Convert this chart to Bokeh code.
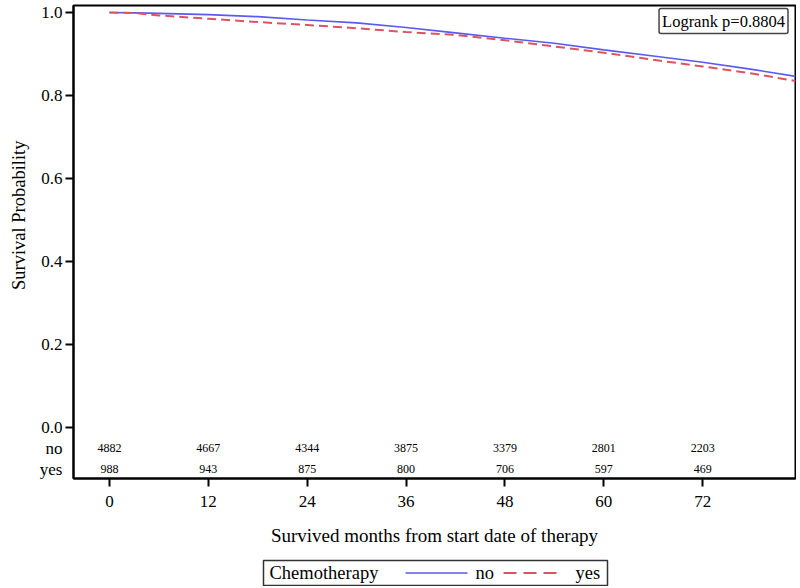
from bokeh.plotting import figure
from bokeh.layouts import column
from bokeh.models import Range1d, FixedTicker, PrintfTickFormatter, Label, ColumnDataSource, Title
from bokeh.core.properties import value
from bokeh.embed import file_html
from bokeh.resources import INLINE

FONT = "Liberation Serif"
BLUE = "#5a5af0"
RED = "#dc5462"

# Kaplan-Meier estimates (months, survival probability)
months = [0, 3, 6, 12, 18, 24, 30, 36, 42, 48, 54, 60, 66, 72, 78, 83.3]
surv_no = [1.000, 0.999, 0.998, 0.995, 0.990, 0.982, 0.975, 0.964, 0.951, 0.938,
           0.926, 0.910, 0.895, 0.880, 0.863, 0.846]
surv_yes = [1.000, 0.999, 0.993, 0.985, 0.977, 0.970, 0.962, 0.953, 0.946, 0.933,
            0.918, 0.903, 0.886, 0.870, 0.853, 0.835]

# numbers at risk
risk_times = [0, 12, 24, 36, 48, 60, 72]
risk_no = [4882, 4667, 4344, 3875, 3379, 2801, 2203]
risk_yes = [988, 943, 875, 800, 706, 597, 469]
risk_groups = ["no", "yes"]

x_ticks = [0, 12, 24, 36, 48, 60, 72]
y_ticks = [0.0, 0.2, 0.4, 0.6, 0.8, 1.0]
x_title = "Survived months from start date of therapy"
y_title = "Survival Probability"
logrank_text = "Logrank p=0.8804"
legend_title = "Chemotherapy"

# row positions of the at-risk table (below y = 0, inside the frame)
ROW_Y = [-0.05, -0.1]

p = figure(frame_width=722, frame_height=473,
           x_range=Range1d(-4.36, 83.27), y_range=Range1d(-0.12289, 1.01687),
           output_backend="svg", toolbar_location=None,
           min_border_left=73, min_border_right=1, min_border_top=5, min_border_bottom=78,
           x_axis_label=x_title)
p.grid.visible = False
p.outline_line_color = "black"
p.outline_line_width = 2
p.background_fill_color = "white"
p.border_fill_color = "white"

for ax in (p.xaxis[0], p.yaxis[0]):
    ax.axis_line_color = "black"
    ax.axis_line_width = 2
    ax.major_tick_line_color = "black"
    ax.major_tick_line_width = 2
    ax.major_tick_in = 0
    ax.major_tick_out = 8
    ax.minor_tick_line_color = None
    ax.major_label_text_font = FONT
    ax.major_label_text_font_size = "17px"
    ax.major_label_text_color = "black"
    ax.axis_label_text_font = FONT
    ax.axis_label_text_font_size = "19px"
    ax.axis_label_text_font_style = "normal"
    ax.axis_label_text_color = "black"

p.xaxis.ticker = FixedTicker(ticks=x_ticks)
p.xaxis.major_label_standoff = 9
p.xaxis.axis_label_standoff = 15

# y axis: numeric ticks carry marks (as minor ticks), group names of the
# at-risk table are labels without marks
p.yaxis.ticker = FixedTicker(ticks=ROW_Y + y_ticks, minor_ticks=y_ticks)
p.yaxis.formatter = PrintfTickFormatter(format="%.1f")
p.yaxis.major_label_overrides = {ROW_Y[0]: risk_groups[0], ROW_Y[1]: risk_groups[1]}
p.yaxis.major_tick_line_color = None
p.yaxis.major_tick_out = 0
p.yaxis.minor_tick_line_color = "black"
p.yaxis.minor_tick_line_width = 2
p.yaxis.minor_tick_in = 0
p.yaxis.minor_tick_out = 8
p.yaxis.major_label_standoff = 3

# y title placed over the probability part of the axis (not over the table)
p.add_layout(Title(text=y_title, align="right", offset=135, vertical_align="top",
                   standoff=12, text_font=FONT, text_font_size="18.5px",
                   text_font_style="normal", text_color="black"), "left")

p.line(months, surv_no, line_color=BLUE, line_width=1.6)
p.line(months, surv_yes, line_color=RED, line_width=2, line_dash="9 5")

src = ColumnDataSource(dict(
    x=risk_times + risk_times,
    y=[ROW_Y[0]] * len(risk_times) + [ROW_Y[1]] * len(risk_times),
    t=[str(v) for v in risk_no] + [str(v) for v in risk_yes],
))
p.text(x="x", y="y", text="t", source=src, text_font=value(FONT), text_font_size="12px",
       text_align="center", text_baseline="middle", text_color="black")

p.add_layout(Label(x=82.36, y=1.0096, text=logrank_text, text_align="right",
                   text_baseline="top", text_font=FONT, text_font_size="16.5px",
                   text_color="black", padding=3, border_line_color="#444444",
                   border_line_width=1.5, background_fill_color="white",
                   border_radius=2))

# legend strip below the chart (its frame is aligned with the chart frame,
# so its x range is expressed in page pixels 73..795)
lg = figure(frame_width=722, height=30, x_range=Range1d(73, 795), y_range=Range1d(0, 30),
            output_backend="svg", toolbar_location=None,
            min_border_left=73, min_border_right=1, min_border_top=0, min_border_bottom=0,
            x_axis_location=None, y_axis_location=None)
lg.grid.visible = False
lg.outline_line_color = None
lg.quad(left=[263], right=[607], bottom=[1], top=[26], fill_color="white",
        line_color="#333333", line_width=1.5)
lg.text(x=[269], y=[13.5], text=[legend_title], text_font=value(FONT), text_font_size="18.5px",
        text_baseline="middle", text_color="black")
lg.segment(x0=[405], y0=[13.5], x1=[467], y1=[13.5], line_color=BLUE, line_width=1.6)
lg.text(x=[475], y=[13.5], text=[risk_groups[0]], text_font=value(FONT), text_font_size="18.5px",
        text_baseline="middle", text_color="black")
lg.segment(x0=[503], y0=[13.5], x1=[562], y1=[13.5], line_color=RED, line_width=2,
           line_dash="13 7")
lg.text(x=[575], y=[13.5], text=[risk_groups[1]], text_font=value(FONT), text_font_size="18.5px",
        text_baseline="middle", text_color="black")

layout = column(p, lg, spacing=0)
open("out.html", "w").write(file_html(layout, INLINE))
